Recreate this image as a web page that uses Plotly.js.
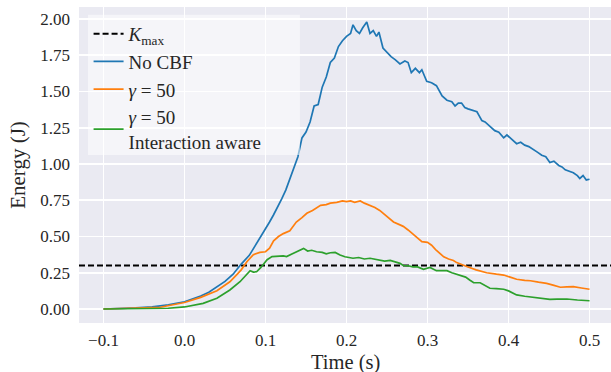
<!DOCTYPE html>
<html>
<head>
<meta charset="utf-8">
<script src="https://cdn.plot.ly/plotly-3.0.1.min.js"></script>
<style>html,body{margin:0;padding:0;background:#fff;}#chart{width:611px;height:372px;}</style>
</head>
<body>
<div id="chart"></div>
<script>
// ---- data ----
const K_MAX = 0.3;

const tNoCBF = [-0.1,-0.08,-0.06,-0.04,-0.02,0.0,0.01,0.02,0.03,0.04,0.05,0.06,0.07,0.08,0.09,0.1,0.105,0.11,0.115,0.12,0.125,0.13,0.135,0.14,0.145,0.15,0.155,0.16,0.165,0.17,0.175,0.18,0.185,0.19,0.195,0.2,
  0.205,0.208,0.212,0.216,0.22,0.225,0.229,0.233,0.237,0.24,0.245,0.25,0.255,0.26,0.266,0.272,0.276,0.28,0.285,0.29,0.293,0.299,0.305,0.311,0.318,0.324,0.33,0.334,0.338,0.342,0.346,0.35,0.355,0.361,0.364,0.367,0.371,0.375,0.38,0.383,0.388,0.394,0.398,0.402,0.406,0.41,0.415,0.42,0.425,0.431,0.436,0.441,0.446,0.451,0.456,0.462,0.466,0.47,0.475,0.48,0.485,0.488,0.492,0.496,0.5];
const eNoCBF = [0.0,0.003,0.008,0.015,0.028,0.05,0.068,0.09,0.115,0.15,0.19,0.24,0.31,0.37,0.46,0.55,0.6,0.65,0.70,0.76,0.82,0.9,0.98,1.05,1.18,1.22,1.29,1.40,1.41,1.53,1.60,1.70,1.73,1.81,1.85,1.88,
  1.90,1.96,1.92,1.90,1.94,1.98,1.90,1.92,1.88,1.91,1.80,1.77,1.74,1.72,1.69,1.71,1.70,1.63,1.66,1.63,1.65,1.57,1.56,1.54,1.47,1.44,1.43,1.40,1.42,1.42,1.39,1.38,1.37,1.36,1.33,1.30,1.29,1.27,1.25,1.23,1.22,1.18,1.20,1.18,1.16,1.14,1.15,1.13,1.12,1.10,1.08,1.06,1.05,1.01,1.02,0.99,0.98,0.96,0.95,0.94,0.92,0.90,0.92,0.89,0.895];

const tGamma = [-0.1,-0.06,-0.03,0.0,0.02,0.04,0.056,0.064,0.07,0.077,0.085,0.093,0.1,0.105,0.11,0.116,0.122,0.13,0.138,0.145,0.151,0.158,0.163,0.168,0.175,0.18,0.188,0.195,0.2,0.205,0.21,0.217,0.222,0.229,0.235,0.241,0.247,0.252,0.258,0.266,0.27,0.276,0.281,0.287,0.293,0.3,0.305,0.31,0.315,0.32,0.326,0.332,0.336,0.342,0.35,0.36,0.373,0.385,0.394,0.402,0.41,0.42,0.427,0.437,0.447,0.455,0.464,0.472,0.48,0.49,0.5];
const eGamma = [0.0,0.004,0.012,0.045,0.08,0.126,0.188,0.234,0.27,0.326,0.375,0.39,0.395,0.42,0.47,0.50,0.52,0.54,0.60,0.63,0.66,0.68,0.70,0.715,0.72,0.73,0.735,0.745,0.74,0.745,0.735,0.745,0.73,0.715,0.70,0.68,0.65,0.625,0.60,0.58,0.57,0.545,0.52,0.49,0.465,0.46,0.44,0.41,0.385,0.36,0.345,0.335,0.32,0.305,0.29,0.27,0.25,0.24,0.234,0.22,0.205,0.198,0.195,0.185,0.177,0.165,0.15,0.152,0.154,0.145,0.136];

const tAware = [-0.1,-0.05,-0.02,0.0,0.023,0.04,0.056,0.0685,0.075,0.081,0.085,0.089,0.094,0.097,0.102,0.108,0.115,0.122,0.126,0.13,0.136,0.142,0.147,0.152,0.157,0.163,0.17,0.175,0.18,0.186,0.192,0.198,0.203,0.208,0.215,0.222,0.229,0.235,0.241,0.247,0.254,0.26,0.266,0.27,0.276,0.282,0.287,0.295,0.303,0.311,0.318,0.324,0.33,0.34,0.347,0.352,0.357,0.365,0.371,0.377,0.385,0.394,0.4,0.41,0.42,0.431,0.44,0.451,0.46,0.472,0.485,0.5];
const eAware = [0.0,0.002,0.005,0.014,0.039,0.074,0.131,0.188,0.23,0.264,0.255,0.257,0.285,0.303,0.34,0.361,0.365,0.366,0.362,0.372,0.39,0.405,0.418,0.40,0.405,0.395,0.39,0.38,0.388,0.39,0.372,0.36,0.356,0.35,0.355,0.345,0.35,0.342,0.333,0.33,0.335,0.325,0.315,0.30,0.298,0.29,0.292,0.274,0.287,0.264,0.262,0.264,0.25,0.234,0.22,0.20,0.181,0.181,0.16,0.143,0.14,0.136,0.125,0.097,0.088,0.081,0.072,0.067,0.068,0.069,0.062,0.057];

const xTicks = [-0.1,0.0,0.1,0.2,0.3,0.4,0.5];
const yTicks = [0.0,0.25,0.5,0.75,1.0,1.25,1.5,1.75,2.0];
const names = ['<i>K</i><sub>max</sub>','No CBF','<i>γ</i> = 50','<i>γ</i> = 50<br>Interaction aware'];
const xTitle = 'Time (s)';
const yTitle = 'Energy (J)';

// ---- layout constants ----
const X_RANGE = [-0.13025, 0.5265];
const Y_RANGE = [-0.0966, 2.0828];
const FONT = 'Liberation Serif, Times New Roman, serif';
const INK = '#262626';

const traces = [
  {x: X_RANGE, y: [K_MAX, K_MAX], name: names[0], mode: 'lines',
   line: {color: '#000000', width: 1.8, dash: '6px,3px'}},
  {x: tNoCBF, y: eNoCBF, name: names[1], mode: 'lines', line: {color: '#1f77b4', width: 1.7}},
  {x: tGamma, y: eGamma, name: names[2], mode: 'lines', line: {color: '#ff7f0e', width: 1.7}},
  {x: tAware, y: eAware, name: names[3], mode: 'lines', line: {color: '#2ca02c', width: 1.7}}
];

const layout = {
  width: 611, height: 372,
  margin: {l: 79, r: 0, t: 7, b: 49, pad: 0},
  paper_bgcolor: '#ffffff',
  plot_bgcolor: '#eaeaf2',
  font: {family: FONT, color: INK, size: 17},
  showlegend: true,
  hovermode: false,
  xaxis: {
    range: X_RANGE, tickvals: xTicks, tickformat: '.1f',
    showgrid: true, gridcolor: '#ffffff', gridwidth: 1.6, zeroline: false,
    showline: false, ticks: '', ticklabelstandoff: 5,
    tickfont: {family: FONT, size: 17, color: INK}
  },
  yaxis: {
    range: Y_RANGE, tickvals: yTicks, tickformat: '.2f',
    showgrid: true, gridcolor: '#ffffff', gridwidth: 1.6, zeroline: false,
    showline: false, ticks: '', ticklabelstandoff: 8,
    tickfont: {family: FONT, size: 17, color: INK},
    title: {text: yTitle, font: {family: FONT, size: 21, color: INK}, standoff: 8}
  },
  annotations: [
    {text: xTitle, xref: 'paper', yref: 'paper', x: 0.5, y: -0.126,
     xanchor: 'center', yanchor: 'middle', showarrow: false,
     font: {family: FONT, size: 20.5, color: INK}}
  ],
  // semi-transparent legend frame, drawn over the curves like the reference
  shapes: [
    {type: 'rect', xref: 'paper', yref: 'paper', layer: 'above',
     x0: 0.0169, x1: 0.4154, y0: 0.532, y1: 0.9756,
     fillcolor: 'rgba(255,255,255,0.5)', line: {width: 0}}
  ],
  legend: {
    x: 0.018, y: 0.975, xanchor: 'left', yanchor: 'top',
    bgcolor: 'rgba(0,0,0,0)', borderwidth: 0,
    font: {family: FONT, size: 19, color: INK},
    itemwidth: 30, tracegroupgap: 0
  }
};

Plotly.newPlot('chart', traces, layout, {displayModeBar: false, staticPlot: true});
</script>
</body>
</html>
